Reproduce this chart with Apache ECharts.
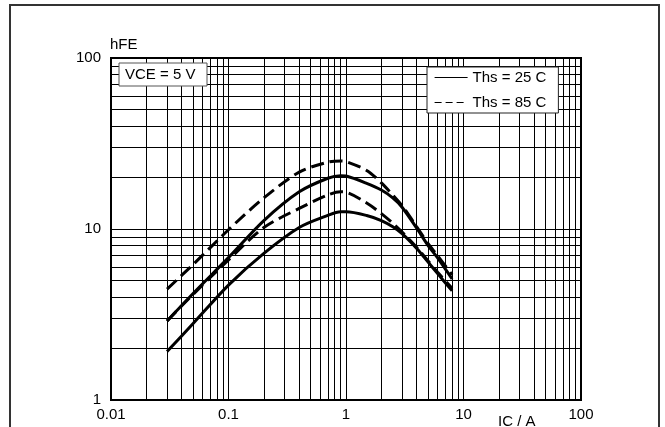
<!DOCTYPE html>
<html>
<head>
<meta charset="utf-8">
<script src="https://cdn.jsdelivr.net/npm/echarts@6/dist/echarts.min.js"></script>
<style>
html,body{margin:0;padding:0;background:#fff;}
#c{width:665px;height:427px;}
</style>
</head>
<body>
<div id="c"></div>
<script>
// ---- data ----
const icValues = [0.03, 0.05, 0.1, 0.2, 0.4, 0.7, 0.9, 1, 1.5, 2, 2.5, 3, 4, 5, 6, 8];
const hfe25Upper = [2.9, 4.2, 6.8, 11.2, 16.5, 19.8, 20.5, 20.4, 18.5, 16.9, 15.2, 13.4, 10.1, 8.0, 6.8, 5.1];
const hfe25Lower = [1.92, 2.8, 4.7, 7.2, 10.2, 12.0, 12.6, 12.6, 12.0, 11.2, 10.3, 9.4, 7.7, 6.4, 5.5, 4.35];
const hfe85Upper = [4.45, 6.2, 9.9, 15.2, 21.5, 24.6, 25.0, 24.8, 22.0, 18.6, 15.8, 13.7, 10.3, 8.2, 7.0, 5.4];
const hfe85Lower = [2.9, 4.15, 6.6, 10.2, 13.2, 15.8, 16.5, 16.4, 14.2, 12.3, 10.8, 9.6, 7.8, 6.5, 5.6, 4.5];
const xTickLabels = ['0.01', '0.1', '1', '10', '100'];
const yTickLabels = ['1', '10', '100'];
const xGridValues = [0.01,0.02,0.03,0.04,0.05,0.06,0.07,0.08,0.09,0.1,0.2,0.3,0.4,0.5,0.6,0.7,0.8,0.9,1,2,3,4,5,6,7,8,9,10,20,30,40,50,60,70,80,90];
const yGridValues = [1,2,3,4,5,6,7,8,9,10,20,30,40,50,60,70,80,90];
const name25 = 'Ths = 25 C';
const name85 = 'Ths = 85 C';

function pairs(xs, ys) { return xs.map((x, i) => [x, ys[i]]); }

const font = 'Liberation Sans, Arial, sans-serif';
const chart = echarts.init(document.getElementById('c'));

const curveLine = (name, ys, dashed) => ({
  type: 'line', name: name, data: pairs(icValues, ys),
  smooth: 0.3, symbol: 'none', showSymbol: false, z: 4,
  lineStyle: { color: '#000', width: 3, type: dashed ? [13, 6] : 'solid' },
  itemStyle: { color: '#000' }
});

const hiddenSym = { color: 'rgba(0,0,0,0)', borderColor: 'rgba(0,0,0,0)', borderWidth: 0, opacity: 0 };

chart.setOption({
  animation: false,
  grid: { left: 111, right: 84, top: 58, bottom: 27, show: true, borderColor: '#000', borderWidth: 2, backgroundColor: '#fff' },
  xAxis: {
    type: 'log', logBase: 10, min: 0.01, max: 100,
    axisLine: { show: false }, axisTick: { show: false }, splitLine: { show: false },
    axisLabel: {
      color: '#000', fontFamily: font, fontSize: 15, margin: 7,
      formatter: v => { const s = xTickLabels.find(t => Math.abs(parseFloat(t) - v) < 1e-9 * Math.max(1, v)); return s || ''; }
    }
  },
  yAxis: {
    type: 'log', logBase: 10, min: 1, max: 100,
    axisLine: { show: false }, axisTick: { show: false }, splitLine: { show: false },
    axisLabel: {
      color: '#000', fontFamily: font, fontSize: 15, margin: 10,
      formatter: v => { const s = yTickLabels.find(t => Math.abs(parseFloat(t) - v) < 1e-9 * Math.max(1, v)); return s || ''; }
    }
  },
  legend: {
    orient: 'vertical', left: 427, top: 67, z: 20,
    data: [
      { name: name25, lineStyle: { width: 1.2, type: 'solid' }, itemStyle: hiddenSym },
      { name: name85, lineStyle: { width: 1.2, type: [7, 4] }, itemStyle: hiddenSym }
    ],
    itemStyle: hiddenSym,
    itemWidth: 33, itemHeight: 14, itemGap: 10,
    padding: [3, 12, 3, 7],
    backgroundColor: '#fff', borderColor: '#222', borderWidth: 1, borderRadius: 0,
    textStyle: { color: '#000', fontFamily: font, fontSize: 15 },
    selectedMode: false
  },
  graphic: [
    { type: 'rect', z: 0, shape: { x: 10, y: 5, width: 649, height: 440 }, style: { fill: 'none', stroke: '#333', lineWidth: 2 } },
    { type: 'text', left: 110, top: 37, style: { text: 'hFE', fill: '#000', font: '15px ' + font } },
    { type: 'text', left: 498, top: 414, style: { text: 'IC / A', fill: '#000', font: '15px ' + font } },
    { type: 'rect', z: 100, shape: { x: 119, y: 63, width: 88, height: 23 }, style: { fill: '#fff', stroke: '#555', lineWidth: 1 } },
    { type: 'text', z: 101, x: 125, y: 67, style: { text: 'VCE = 5 V', fill: '#000', font: '15px ' + font } }
  ],
  series: [
    {
      type: 'line', name: 'grid', data: [], z: 1, silent: true,
      markLine: {
        silent: true, symbol: 'none', animation: false, z: 1,
        label: { show: false },
        lineStyle: { color: '#000', width: 1, type: 'solid' },
        emphasis: { disabled: true },
        data: xGridValues.map(v => ({ xAxis: v })).concat(yGridValues.map(v => ({ yAxis: v })))
      }
    },
    curveLine(name25, hfe25Upper, false),
    curveLine(name25, hfe25Lower, false),
    curveLine(name85, hfe85Upper, true),
    curveLine(name85, hfe85Lower, true)
  ]
});
</script>
</body>
</html>
